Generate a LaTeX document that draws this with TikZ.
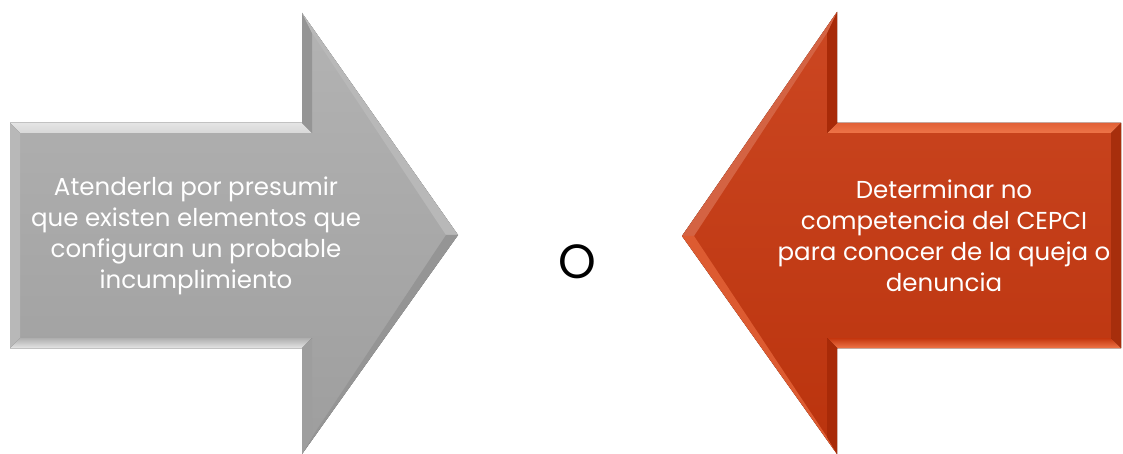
\documentclass[tikz,border=0pt]{standalone}
\usepackage{fontspec}
\setmainfont{Poppins}
\usepackage{tikz}

\definecolor{greymain}{HTML}{A6A6A6}
\definecolor{greylight}{HTML}{E4E4E4}
\definecolor{greydark}{HTML}{8E8E8E}
\definecolor{redmain}{HTML}{C4360E}
\definecolor{redtop}{HTML}{CC4722}
\definecolor{redlight}{HTML}{EE7448}
\definecolor{reddark}{HTML}{A82A08}

\tikzset{
  boxtext/.style={align=center,text=white,font=\fontsize{24.5}{31}\selectfont},
  bevel/.style={draw=none}
}

\begin{document}
\begin{tikzpicture}[x=1pt,y=-1pt]
 \useasboundingbox (0,0) rectangle (1123,454);
 % grey arrow, pointing right
 \coordinate (ga) at (10,123); \coordinate (gb) at (302,123);
 \coordinate (gc) at (302,13); \coordinate (gd) at (458,235);
 \coordinate (ge) at (302,454); \coordinate (gf) at (302,348);
 \coordinate (gg) at (10,348);
 \fill[top color=greymain!85!white,bottom color=greymain!95!black]
   (ga)--(gb)--(gc)--(gd)--(ge)--(gf)--(gg)--cycle;
 \fill[bevel,top color=greylight,bottom color=greylight!80!greymain]
   (ga)--(gb)--(312,133)--(20,133)--cycle;
 \fill[bevel,top color=greymain!90!white,bottom color=greylight]
   (gg)--(gf)--(312,338)--(20,338)--cycle;
 \fill[bevel,greymain!80!white] (ga)--(20,133)--(20,338)--(gg)--cycle;
 \fill[bevel,greymain!90!black] (gc)--(gb)--(312,133)--(312,33)--cycle;
 \fill[bevel,greymain!80!white] (gc)--(gd)--(446,235)--(312,33)--cycle;
 \fill[bevel,greymain!90!black] (ge)--(gd)--(446,235)--(312,437)--cycle;
 \fill[bevel,greymain!95!black] (ge)--(gf)--(312,338)--(312,437)--cycle;
 % red arrow, pointing left
 \coordinate (ra) at (1121,123); \coordinate (rb) at (837,123);
 \coordinate (rc) at (837,12); \coordinate (rd) at (682,236);
 \coordinate (re) at (837,454); \coordinate (rf) at (837,348);
 \coordinate (rg) at (1121,348);
 \fill[top color=redtop,bottom color=redmain!95!black]
   (ra)--(rb)--(rc)--(rd)--(re)--(rf)--(rg)--cycle;
 \fill[bevel,top color=redlight!70!redmain,bottom color=redlight]
   (ra)--(rb)--(827,133)--(1111,133)--cycle;
 \fill[bevel,top color=redmain,bottom color=redlight]
   (rg)--(rf)--(827,338)--(1111,338)--cycle;
 \fill[bevel,redmain!85!black] (ra)--(1111,133)--(1111,338)--(rg)--cycle;
 \fill[bevel,reddark] (rc)--(rb)--(827,133)--(827,33)--cycle;
 \fill[bevel,redtop!85!white] (rc)--(rd)--(694,236)--(827,33)--cycle;
 \fill[bevel,redlight!60!redmain] (re)--(rd)--(694,236)--(827,437)--cycle;
 \fill[bevel,reddark] (re)--(rf)--(827,338)--(827,437)--cycle;
 % labels
 \node[boxtext] (grylbl) at (196,236)
   {Atenderla por presumir\\que existen elementos que\\configuran un probable\\incumplimiento};
 \node[boxtext] (redlbl) at (944,236)
   {Determinar no\\competencia del CEPCI\\para conocer de la queja o\\denuncia};
 \node[font=\fontsize{48}{48}\selectfont] (orlbl) at (577,262) {O};
\end{tikzpicture}
\end{document}
